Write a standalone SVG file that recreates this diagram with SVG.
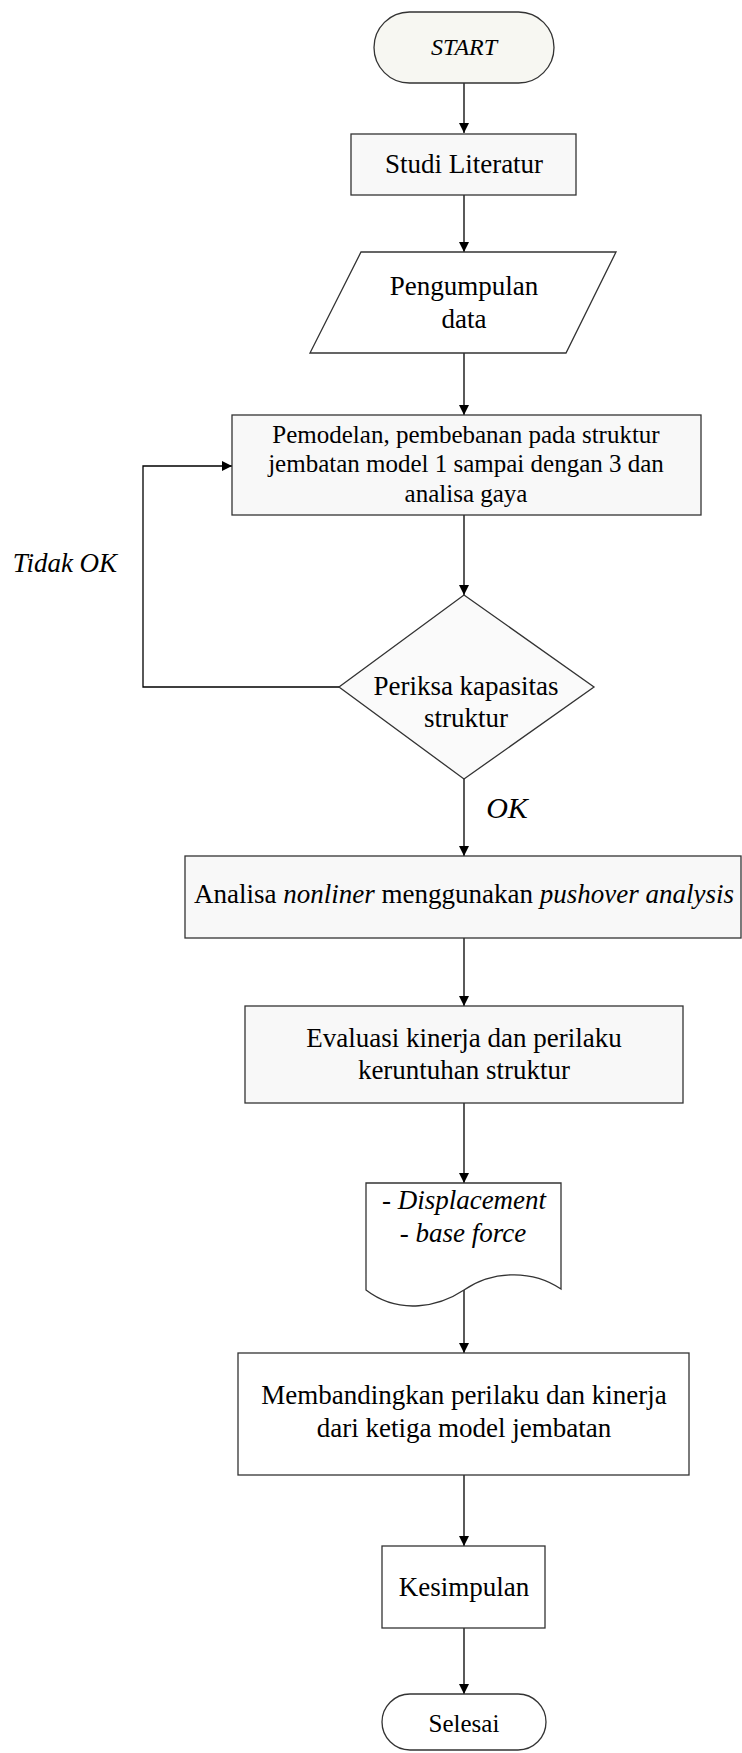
<svg xmlns="http://www.w3.org/2000/svg" width="742" height="1753" viewBox="0 0 742 1753">
<style>
text{font-family:"Liberation Serif","Times New Roman",serif;fill:#000;text-anchor:middle}
.t27{font-size:27px}
.t25{font-size:25px}
.it{font-style:italic}
.node{stroke:#333;stroke-width:1.3}
.grey{fill:#f8f8f8}
.cream{fill:#f7f7f2}
.white{fill:#fff}
.conn{stroke:#000;stroke-width:1.3;fill:none}
</style>
<defs>
<marker id="arr" viewBox="0 0 10 10" refX="10" refY="5" markerWidth="10" markerHeight="10" markerUnits="userSpaceOnUse" orient="auto">
<path d="M0,0 L10,5 L0,10 Z" fill="#000"/>
</marker>
</defs>
<rect width="742" height="1753" fill="#fff"/>
<g id="connectors">
<line class="conn" x1="464" y1="83" x2="464" y2="133" marker-end="url(#arr)"/>
<line class="conn" x1="464" y1="195" x2="464" y2="252" marker-end="url(#arr)"/>
<line class="conn" x1="464" y1="353" x2="464" y2="415" marker-end="url(#arr)"/>
<line class="conn" x1="464" y1="515" x2="464" y2="595" marker-end="url(#arr)"/>
<polyline class="conn" points="339,687 143,687 143,466 232,466" marker-end="url(#arr)"/>
<line class="conn" x1="464" y1="779" x2="464" y2="856" marker-end="url(#arr)"/>
<line class="conn" x1="464" y1="938" x2="464" y2="1006" marker-end="url(#arr)"/>
<line class="conn" x1="464" y1="1103" x2="464" y2="1183" marker-end="url(#arr)"/>
<line class="conn" x1="464" y1="1290" x2="464" y2="1353" marker-end="url(#arr)"/>
<line class="conn" x1="464" y1="1475" x2="464" y2="1546" marker-end="url(#arr)"/>
<line class="conn" x1="464" y1="1628" x2="464" y2="1694" marker-end="url(#arr)"/>
<text class="t27 it" x="65" y="572">Tidak OK</text>
<text class="it" x="507" y="818" style="font-size:30px">OK</text>
</g>
<g id="start">
<rect class="node cream" x="374" y="12" width="180" height="71" rx="35.5"/>
<text class="it" x="464" y="55" style="font-size:24px">START</text>
</g>
<g id="studi">
<rect class="node grey" x="351" y="134" width="225" height="61"/>
<text class="t27" x="464" y="173">Studi Literatur</text>
</g>
<g id="pengumpulan">
<polygon class="node white" points="361,252 616,252 566,353 310,353"/>
<text class="t27" x="464" y="295">Pengumpulan</text>
<text class="t27" x="464" y="328">data</text>
</g>
<g id="pemodelan">
<rect class="node grey" x="232" y="415" width="469" height="100"/>
<text class="t25" x="466" y="443">Pemodelan, pembebanan pada struktur</text>
<text class="t25" x="466" y="472">jembatan model 1 sampai dengan 3 dan</text>
<text class="t25" x="466" y="502">analisa gaya</text>
</g>
<g id="periksa">
<polygon class="node" fill="#fafafa" points="464,595 594,687 464,779 339,687"/>
<text class="t27" x="466" y="695">Periksa kapasitas</text>
<text class="t27" x="466" y="727">struktur</text>
</g>
<g id="analisa">
<rect class="node grey" x="185" y="856" width="556" height="82"/>
<text class="t27" x="464" y="903">Analisa <tspan class="it">nonliner</tspan> menggunakan <tspan class="it">pushover analysis</tspan></text>
</g>
<g id="evaluasi">
<rect class="node grey" x="245" y="1006" width="438" height="97"/>
<text class="t27" x="464" y="1047">Evaluasi kinerja dan perilaku</text>
<text class="t27" x="464" y="1079">keruntuhan struktur</text>
</g>
<g id="output">
<path class="node white" d="M366,1183 L561,1183 L561,1289 C530,1268 490,1272 464,1290 C440,1306 400,1316 366,1290 Z"/>
<text class="t27" x="464" y="1209">- <tspan class="it">Displacement</tspan></text>
<text class="t27" x="463" y="1242">- <tspan class="it">base force</tspan></text>
</g>
<g id="membandingkan">
<rect class="node white" x="238" y="1353" width="451" height="122"/>
<text class="t27" x="464" y="1404">Membandingkan perilaku dan kinerja</text>
<text class="t27" x="464" y="1437">dari ketiga model jembatan</text>
</g>
<g id="kesimpulan">
<rect class="node white" x="382" y="1546" width="163" height="82"/>
<text class="t27" x="464" y="1596">Kesimpulan</text>
</g>
<g id="selesai">
<rect class="node white" x="382" y="1694" width="164" height="56" rx="28"/>
<text class="t25" x="464" y="1732">Selesai</text>
</g>
</svg>
